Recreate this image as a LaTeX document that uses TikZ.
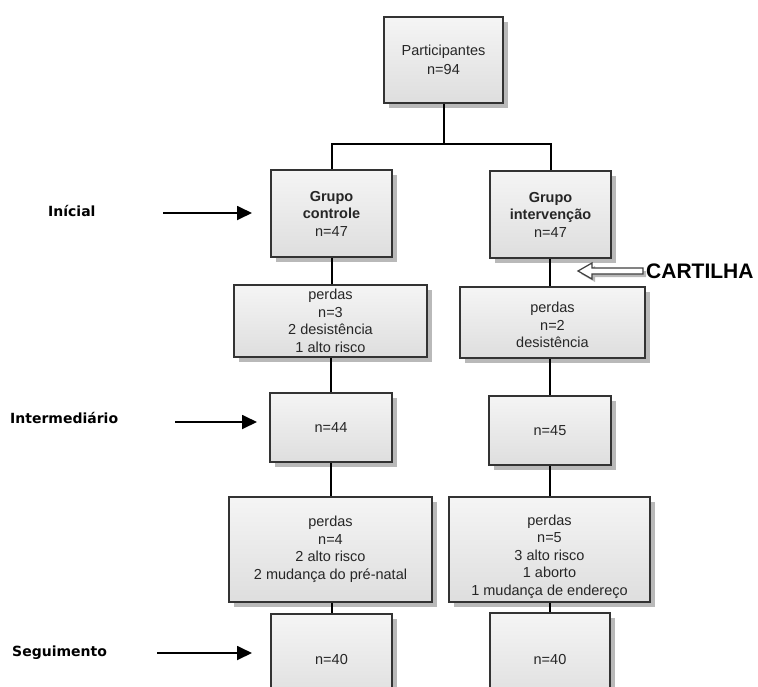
\documentclass[tikz,border=0pt]{standalone}
\usepackage{fontspec}
\setmainfont{Liberation Sans}
\newfontfamily\lblfont{DejaVu Sans}
\usetikzlibrary{shadows,arrows.meta}
\begin{document}
\begin{tikzpicture}[x=1pt,y=-1pt,
  box/.style={draw=black!80, line width=1.6pt, top color=gray!8, bottom color=gray!26,
    align=center, inner sep=2pt, font=\fontsize{14.5}{17.5}\selectfont, text=black!85,
    general shadow={fill=gray!55, shadow xshift=5pt, shadow yshift=-5pt}},
  conn/.style={line width=2pt, black},
  sidelbl/.style={font=\lblfont\bfseries\fontsize{14}{17}\selectfont, anchor=west, inner sep=0pt},
  sidearr/.style={line width=1.8pt, -{Triangle[length=15pt,width=14pt]}},
  hollowarr/.style={fill=white, draw=black!75, line width=1.2pt, line join=miter},
  hollowshadow/.style={fill=gray!55}
]
\useasboundingbox (0,0) rectangle (758,686);
\clip (0,0) rectangle (758,686);

% boxes
\node[box, minimum width=119pt, minimum height=86pt] (P) at (443.5,60) {Participantes\\[2pt]n=94};
\node[box, minimum width=121pt, minimum height=87pt] (GC) at (331.5,213.5) {\textbf{Grupo}\\\textbf{controle}\\n=47};
\node[box, minimum width=121pt, minimum height=87pt] (GI) at (550.5,214.5) {\textbf{Grupo}\\\textbf{intervenção}\\n=47};
\node[box, minimum width=193pt, minimum height=72pt] (PC) at (330.5,321) {perdas\\n=3\\2 desistência\\1 alto risco};
\node[box, minimum width=185pt, minimum height=71pt] (PI) at (552.5,322.5) {\rule{0pt}{16pt}perdas\\n=2\\desistência};
\node[box, minimum width=122pt, minimum height=69pt] (N44) at (331,427.5) {n=44};
\node[box, minimum width=122pt, minimum height=69pt] (N45) at (550,430.5) {n=45};
\node[box, minimum width=203pt, minimum height=105pt] (P4) at (330.5,549.5) {perdas\\n=4\\2 alto risco\\2 mudança do pré-natal};
\node[box, minimum width=201pt, minimum height=105pt] (P5) at (549.5,549.5) {\rule{0pt}{25pt}perdas\\n=5\\3 alto risco\\1 aborto\\1 mudança de endereço};
\node[box, minimum width=121pt, minimum height=90pt] (N40L) at (331.5,659) {n=40};
\node[box, minimum width=120pt, minimum height=92pt] (N40R) at (550,659) {n=40};

% connectors
\coordinate (split) at (443.5,144);
\draw[conn] (P.south) -- (split);
\draw[conn] (GC.north) |- (split) -| (GI.north);
\draw[conn] (GC.south) -- (GC.south |- PC.north);
\draw[conn] (PC.south -| N44.north) -- (N44.north);
\draw[conn] (N44.south) -- (N44.south |- P4.north);
\draw[conn] (P4.south -| N40L.north) -- (N40L.north);
\draw[conn] (GI.south -| N45.north) -- (PI.north -| N45.north);
\draw[conn] (PI.south -| N45.north) -- (N45.north);
\draw[conn] (N45.south) -- (N45.south |- P5.north);
\draw[conn] (P5.south -| N40R.north) -- (N40R.north);

% CARTILHA hollow arrow
\coordinate (ctip) at (578,271);
\path[hollowshadow] ([shift={(3,3)}]ctip) -- ++(14,-8) -- ++(0,5) -- ++(51,0) -- ++(0,6) -- ++(-51,0) -- ++(0,5) -- cycle;
\path[hollowarr] (ctip) -- ++(14,-8) -- ++(0,5) -- ++(51,0) -- ++(0,6) -- ++(-51,0) -- ++(0,5) -- cycle;
\node[font=\bfseries\fontsize{21}{24}\selectfont, anchor=west, inner sep=0pt] (cart) at (646,271) {CARTILHA};

% side labels
\node[sidelbl] (lI) at (48,211) {Inícial};
\node[sidelbl] (lM) at (10,418) {Intermediário};
\node[sidelbl] (lS) at (12,653) {Seguimento};
\coordinate (aI) at (163,213);
\coordinate (bI) at (252,213);
\coordinate (aM) at (175,422);
\coordinate (bM) at (257,422);
\coordinate (aS) at (157,653);
\coordinate (bS) at (252,653);
\draw[sidearr] (aI) -- (bI);
\draw[sidearr] (aM) -- (bM);
\draw[sidearr] (aS) -- (bS);
\end{tikzpicture}
\end{document}
